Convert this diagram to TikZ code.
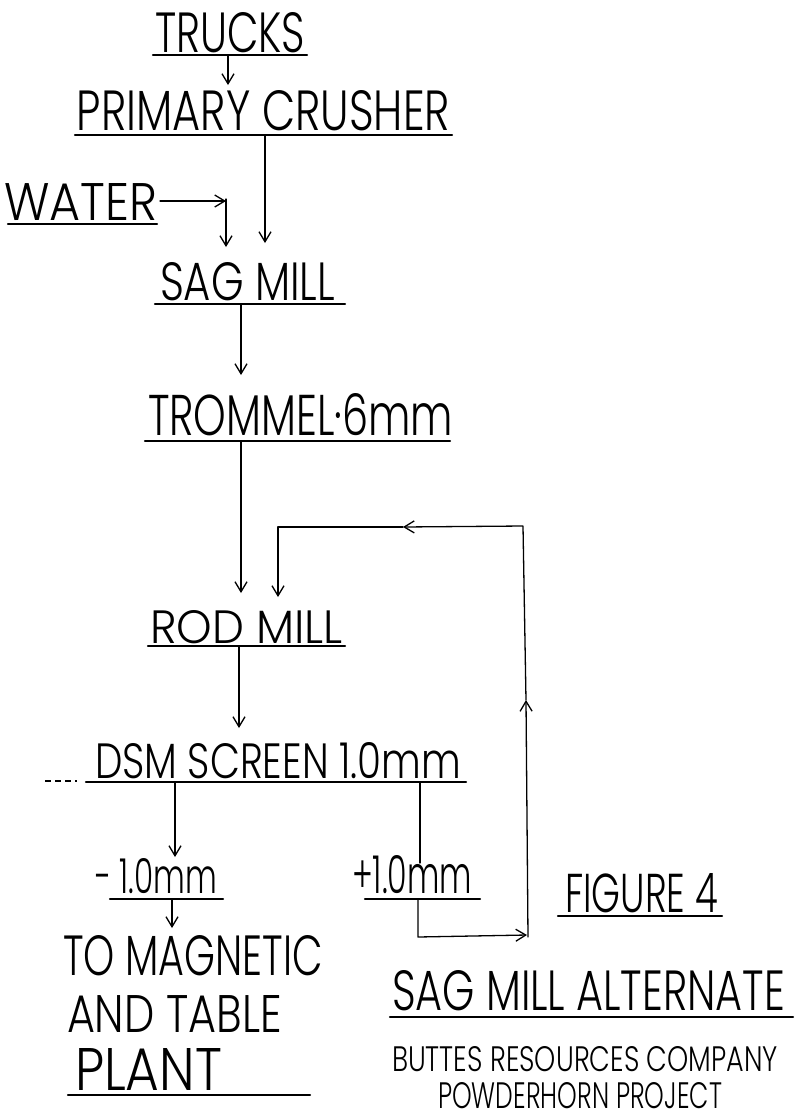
\documentclass[tikz,border=0pt]{standalone}
\usepackage{fontspec}
\usepackage{graphicx}
\newfontfamily\hand{Poppins Light}
\usetikzlibrary{arrows.meta}
\newcommand\hw[3]{\resizebox{#1pt}{#2pt}{\hand #3}}
\tikzset{
  lbl/.style={inner sep=0pt, outer sep=0pt, anchor=base west},
  conn/.style={line width=1.3pt, line cap=round, line join=round},
  arr/.style={conn, -{Straight Barb[length=10pt,width=12pt,line width=1.3pt]}},
  uline/.style={line width=2.2pt, line cap=round},
  stub/.style={line width=1.2pt, dash pattern=on 6pt off 4pt}
}
\begin{document}
\begin{tikzpicture}[x=1pt,y=-1pt]
\useasboundingbox[fill=white] (0,0) rectangle (800,1120);
% labels
\node[lbl] (trucks)    at (155,52)   {\hw{150}{40}{TRUCKS}};
\node[lbl] (primary)   at (77,130)   {\hw{373}{40}{PRIMARY CRUSHER}};
\node[lbl] (water)     at (4,220)    {\hw{153}{37}{WATER}};
\node[lbl] (sag)       at (160,300)  {\hw{175}{38}{SAG MILL}};
\node[lbl] (trommel)   at (148,435)  {\hw{305}{42}{TROMMEL·6mm}};
\node[lbl] (rod)       at (150,643)  {\hw{193}{33}{ROD MILL}};
\node[lbl] (dsm)       at (95,778)   {\hw{366}{36}{DSM SCREEN 1.0mm}};
\node[lbl] (minus)     at (95,893)   {\hw{122}{35}{-~1.0mm}};
\node[lbl] (plus)      at (352,893)  {\hw{120}{38}{+1.0mm}};
\node[lbl] (magnetic)  at (63,975)   {\hw{260}{40}{TO MAGNETIC}};
\node[lbl] (andtable)  at (67,1032)  {\hw{215}{37}{AND TABLE}};
\node[lbl] (plant)     at (75,1090)  {\hw{147}{42}{PLANT}};
\node[lbl] (figure)    at (565,912)  {\hw{153}{39}{FIGURE 4}};
\node[lbl] (alternate) at (392,1010) {\hw{393}{40}{SAG MILL ALTERNATE}};
\node[lbl] (buttes)    at (392,1071) {\hw{386}{25}{BUTTES RESOURCES COMPANY}};
\node[lbl] (powder)    at (438,1108) {\hw{284}{26}{POWDERHORN PROJECT}};
% underlines
\draw[uline] (153,55) -- (307,55);
\draw[uline] (75,135) -- (452,135);
\draw[uline] (8,224) -- (157,224);
\draw[uline] (155,304) -- (345,304);
\draw[uline] (145,441) -- (450,441);
\draw[uline] (148,646) -- (345,646);
\draw[uline] (86,782) -- (466,782);
\draw[uline] (110,899) -- (223,899);
\draw[uline] (365,899) -- (480,899);
\draw[uline] (68,1095) -- (310,1095);
\draw[uline] (558,916) -- (722,916);
\draw[uline] (390,1017) -- (793,1017);
% connection points
\coordinate (tr1) at (228,56);   \coordinate (pc0) at (228,85);
\coordinate (pc1) at (265,136);  \coordinate (sg0) at (265,243);
\coordinate (wa1) at (160,201);  \coordinate (wc)  at (226,201);
\coordinate (wv1) at (226,199);  \coordinate (sg1) at (226,247);
\coordinate (sg2) at (241,305);  \coordinate (tm0) at (241,375);
\coordinate (tm1) at (241,442);  \coordinate (rd0) at (241,593);
\coordinate (rd1) at (239,647);  \coordinate (ds0) at (239,728);
\coordinate (ds1) at (175,783);  \coordinate (mi0) at (175,857);
\coordinate (mi1) at (172,900);  \coordinate (mg0) at (172,928);
\coordinate (ds2) at (420,783);  \coordinate (pl0) at (420,863);
\coordinate (pl1) at (418,900);  \coordinate (pc)  at (418,937);
\coordinate (rb)  at (527,935);  \coordinate (rbs) at (528,937);
\coordinate (rup) at (526,700);  \coordinate (rt)  at (523,526);
\coordinate (lmid) at (403,527); \coordinate (lt) at (278,527);
\coordinate (rd2) at (278,597);
\coordinate (st0) at (45,781);   \coordinate (st1) at (77,781);
% connectors
\draw[arr] (tr1) -- (pc0);
\draw[arr] (pc1) -- (sg0);
\draw[arr] (wa1) -- (wc);
\draw[arr] (wv1) -- (sg1);
\draw[arr] (sg2) -- (tm0);
\draw[arr] (tm1) -- (rd0);
\draw[arr] (rd1) -- (ds0);
\draw[arr] (ds1) -- (mi0);
\draw[arr] (mi1) -- (mg0);
\draw[conn] (ds2) -- (pl0);
\draw[arr] (pl1) -- (pc) -- (rb);
\draw[arr] (rbs) -- (rup);
\draw[arr] (rup) -- (rt) -- (lmid);
\draw[arr] (lmid) -- (lt) -- (rd2);
\draw[stub] (st0) -- (st1);
\end{tikzpicture}
\end{document}
